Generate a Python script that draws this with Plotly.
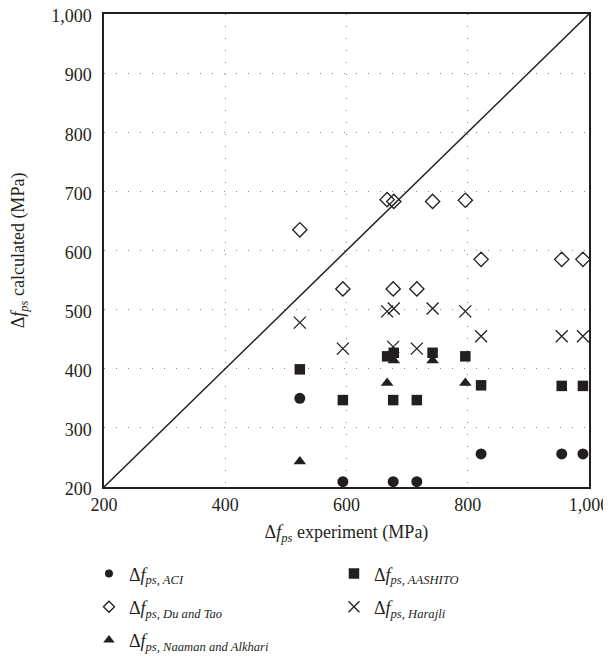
import plotly.graph_objects as go

# Experimental stress increase (MPa), one entry per specimen
experiment = [523, 594, 667, 678, 677, 716, 742, 796, 822, 955, 990]

# Calculated values (MPa); None = below the plotted range
aci      = [350, 209, None, None, 209, 209, None, None, 256, 256, 256]
aashito  = [399, 347, 421, 427, 347, 347, 427, 421, 372, 371, 371]
du_tao   = [635, 535, 686, 683, 535, 535, 683, 685, 585, 585, 585]
harajli  = [478, 434, 497, 502, 437, 434, 502, 497, 455, 455, 455]
naaman   = [243, None, 376, 414, None, None, 414, 376, None, None, None]

tick_vals = [200, 300, 400, 500, 600, 700, 800, 900, 1000]
tick_text = ["200", "300", "400", "500", "600", "700", "800", "900", "1,000"]
x_tick_vals = [200, 400, 600, 800, 1000]
x_tick_text = ["200", "400", "600", "800", "1,000"]
diag = [200, 1000]

INK = "#231f20"
FONT = "Liberation Serif, Times New Roman, serif"

def lbl(name):
    return "Δ<i>f</i><sub><i>ps, " + name + "</i></sub>"

fig = go.Figure()
fig.add_trace(go.Scatter(x=diag, y=diag, mode="lines", line=dict(color=INK, width=1.5),
                         showlegend=False, hoverinfo="skip"))

# (values, label, plot marker, legend marker, legend id)
series = [
    (aci, lbl("ACI"),
     dict(symbol="circle", size=11, color=INK),
     dict(symbol="circle", size=8, color=INK), "legend"),
    (aashito, lbl("AASHITO"),
     dict(symbol="square", size=10.5, color=INK),
     dict(symbol="square", size=10.5, color=INK), "legend"),
    (du_tao, lbl("Du and Tao"),
     dict(symbol="diamond-open", size=11, color=INK, line=dict(width=1.3, color=INK)),
     dict(symbol="diamond-open", size=8.5, color=INK, line=dict(width=1.3, color=INK)), "legend2"),
    (harajli, lbl("Harajli"),
     dict(symbol="x-thin", size=12, color=INK, line=dict(width=1.3, color=INK)),
     dict(symbol="x-thin", size=11, color=INK, line=dict(width=1.3, color=INK)), "legend2"),
    (naaman, lbl("Naaman and Alkhari"),
     dict(symbol="triangle-up", size=11, color=INK),
     dict(symbol="triangle-up", size=10, color=INK), "legend3"),
]
for ys, name, mk, lmk, lg in series:
    fig.add_trace(go.Scatter(x=experiment, y=ys, mode="markers", name=name, marker=mk,
                             cliponaxis=False, showlegend=False))
    # legend-only entry (no data) so the key symbol can be sized like the reference
    fig.add_trace(go.Scatter(x=[None], y=[None], mode="markers", name=name, marker=lmk,
                             legend=lg, showlegend=True, hoverinfo="skip"))

axis_common = dict(
    showline=True, mirror=True, linecolor=INK, linewidth=1.5,
    showgrid=True, gridcolor="#8a8a8a", gridwidth=1.3, griddash="1px,11px",
    zeroline=False, ticks="", tickfont=dict(family=FONT, size=18, color=INK),
    ticklabeloverflow="allow",
)
fig.update_xaxes(range=[200, 1000], tickvals=x_tick_vals, ticktext=x_tick_text,
                 ticklabelstandoff=1,
                 title=dict(text="Δ<i>f</i><sub><i>ps</i></sub> experiment (MPa)",
                            font=dict(family=FONT, size=18, color=INK), standoff=11),
                 **axis_common)
fig.update_yaxes(range=[200, 1000], tickvals=tick_vals, ticktext=tick_text,
                 ticklabelstandoff=7, ticklabelshift=2,
                 title=dict(text="Δ<i>f</i><sub><i>ps</i></sub> calculated (MPa)",
                            font=dict(family=FONT, size=18, color=INK), standoff=26),
                 **axis_common)

leg_common = dict(orientation="h", x=-0.031, xanchor="left", yanchor="middle",
                  entrywidth=200, entrywidthmode="pixels", bgcolor="rgba(0,0,0,0)",
                  font=dict(family=FONT, size=18, color=INK))
fig.update_layout(
    width=611, height=659,
    margin=dict(l=96, r=30, t=6, b=180, autoexpand=False),
    paper_bgcolor="white", plot_bgcolor="white",
    font=dict(family=FONT, size=18, color=INK),
    legend=dict(y=-0.1835, **leg_common),
    legend2=dict(y=-0.2538, **leg_common),
    legend3=dict(y=-0.3243, **leg_common),
)

fig.write_html("out.html")
